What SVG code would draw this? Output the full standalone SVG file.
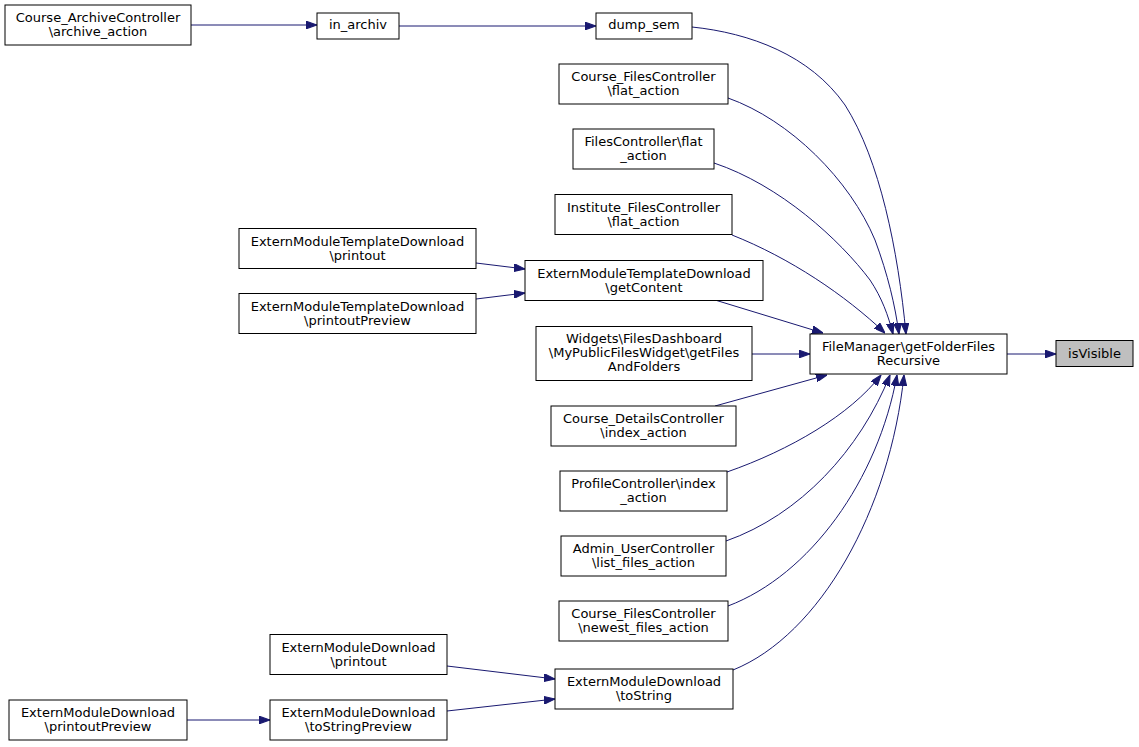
<svg xmlns="http://www.w3.org/2000/svg" width="1139" height="747" viewBox="0 0 1139 747">
<style>
.n rect{fill:#fff;stroke:#000;stroke-width:1}
.n text{font-family:"DejaVu Sans",sans-serif;font-size:13px;text-anchor:middle;fill:#000}
#edges path{fill:none;stroke:#191970;stroke-width:1;marker-end:url(#ah)}
</style>
<defs>
<marker id="ah" markerUnits="userSpaceOnUse" markerWidth="11" markerHeight="8" refX="10" refY="3.5" orient="auto" viewBox="0 0 10 7">
<path d="M0,0 L10,3.5 L0,7 z" fill="#191970" stroke="#191970"/>
</marker>
</defs>
<rect width="1139" height="747" fill="#fff"/>
<g id="edges">
<path d="M191,25 L317,25"/>
<path d="M399,26 L596,26"/>
<path d="M692,27 C750,33 810,55 845,105 C880,160 898,250 906,334"/>
<path d="M728,98 C790,120 850,180 875,240 C888,275 895,305 899,334"/>
<path d="M714,163 C780,185 840,240 870,280 C882,298 888,315 893,334"/>
<path d="M732,235 C790,258 845,295 885,333"/>
<path d="M715,300 L823,333"/>
<path d="M752,354 L810,354"/>
<path d="M715,406 L827,375"/>
<path d="M727,472 C790,450 850,415 881,375"/>
<path d="M726,541 C800,515 860,450 890,375"/>
<path d="M728,606 C810,575 878,480 897,375"/>
<path d="M733,670 C820,635 890,510 904,375"/>
<path d="M476,263 L525,269"/>
<path d="M476,299 L525,293"/>
<path d="M447,666 L555,679"/>
<path d="M447,711 L555,699"/>
<path d="M187,720 L270,720"/>
<path d="M1007,354 L1056,354"/>
</g>
<g id="isVisible" class="n"><rect x="1056" y="340.5" width="77" height="26" style="fill:#bfbfbf"/><text x="1094.5" y="357.5">isVisible</text></g>
<g id="FileManager" class="n"><rect x="810" y="334" width="197" height="40"/><text x="908.5" y="351.3">FileManager\getFolderFiles</text><text x="908.5" y="365.3">Recursive</text></g>
<g id="CourseArchive" class="n"><rect x="5" y="5" width="186" height="40"/><text x="98" y="22.3">Course_ArchiveController</text><text x="98" y="36.3">\archive_action</text></g>
<g id="in_archiv" class="n"><rect x="317" y="13" width="82" height="26"/><text x="358" y="29">in_archiv</text></g>
<g id="dump_sem" class="n"><rect x="596" y="13" width="96" height="26"/><text x="644" y="29">dump_sem</text></g>
<g id="CourseFilesFlat" class="n"><rect x="559" y="64" width="169" height="40"/><text x="643.5" y="81.3">Course_FilesController</text><text x="643.5" y="95.3">\flat_action</text></g>
<g id="FilesFlat" class="n"><rect x="573" y="129" width="141" height="40"/><text x="643.5" y="146.3">FilesController\flat</text><text x="643.5" y="160.3">_action</text></g>
<g id="InstituteFlat" class="n"><rect x="555" y="194.5" width="177" height="40"/><text x="643.5" y="211.8">Institute_FilesController</text><text x="643.5" y="225.8">\flat_action</text></g>
<g id="EMTDPrintout" class="n"><rect x="239" y="228.5" width="237" height="40"/><text x="357.5" y="245.8">ExternModuleTemplateDownload</text><text x="357.5" y="259.8">\printout</text></g>
<g id="EMTDPrintoutPreview" class="n"><rect x="239" y="293.5" width="237" height="40"/><text x="357.5" y="310.8">ExternModuleTemplateDownload</text><text x="357.5" y="324.8">\printoutPreview</text></g>
<g id="EMTDGetContent" class="n"><rect x="525" y="260.5" width="238" height="40"/><text x="644" y="277.8">ExternModuleTemplateDownload</text><text x="644" y="291.8">\getContent</text></g>
<g id="Widgets" class="n"><rect x="536" y="326.5" width="216" height="54"/><text x="644" y="342.5">Widgets\FilesDashboard</text><text x="644" y="356.5">\MyPublicFilesWidget\getFiles</text><text x="644" y="370.5">AndFolders</text></g>
<g id="CourseDetails" class="n"><rect x="551" y="406" width="185" height="40"/><text x="643.5" y="423.3">Course_DetailsController</text><text x="643.5" y="437.3">\index_action</text></g>
<g id="ProfileIndex" class="n"><rect x="560" y="471" width="167" height="40"/><text x="643.5" y="488.3">ProfileController\index</text><text x="643.5" y="502.3">_action</text></g>
<g id="AdminList" class="n"><rect x="561" y="536" width="165" height="40"/><text x="643.5" y="553.3">Admin_UserController</text><text x="643.5" y="567.3">\list_files_action</text></g>
<g id="CourseNewest" class="n"><rect x="559" y="601" width="169" height="40"/><text x="643.5" y="618.3">Course_FilesController</text><text x="643.5" y="632.3">\newest_files_action</text></g>
<g id="EMDToString" class="n"><rect x="555" y="669" width="178" height="40"/><text x="644" y="686.3">ExternModuleDownload</text><text x="644" y="700.3">\toString</text></g>
<g id="EMDPrintout" class="n"><rect x="270" y="634.5" width="177" height="40"/><text x="358.5" y="651.8">ExternModuleDownload</text><text x="358.5" y="665.8">\printout</text></g>
<g id="EMDToStringPreview" class="n"><rect x="270" y="700" width="177" height="40"/><text x="358.5" y="717.3">ExternModuleDownload</text><text x="358.5" y="731.3">\toStringPreview</text></g>
<g id="EMDPrintoutPreview" class="n"><rect x="9" y="700" width="178" height="40"/><text x="98" y="717.3">ExternModuleDownload</text><text x="98" y="731.3">\printoutPreview</text></g>
</svg>
